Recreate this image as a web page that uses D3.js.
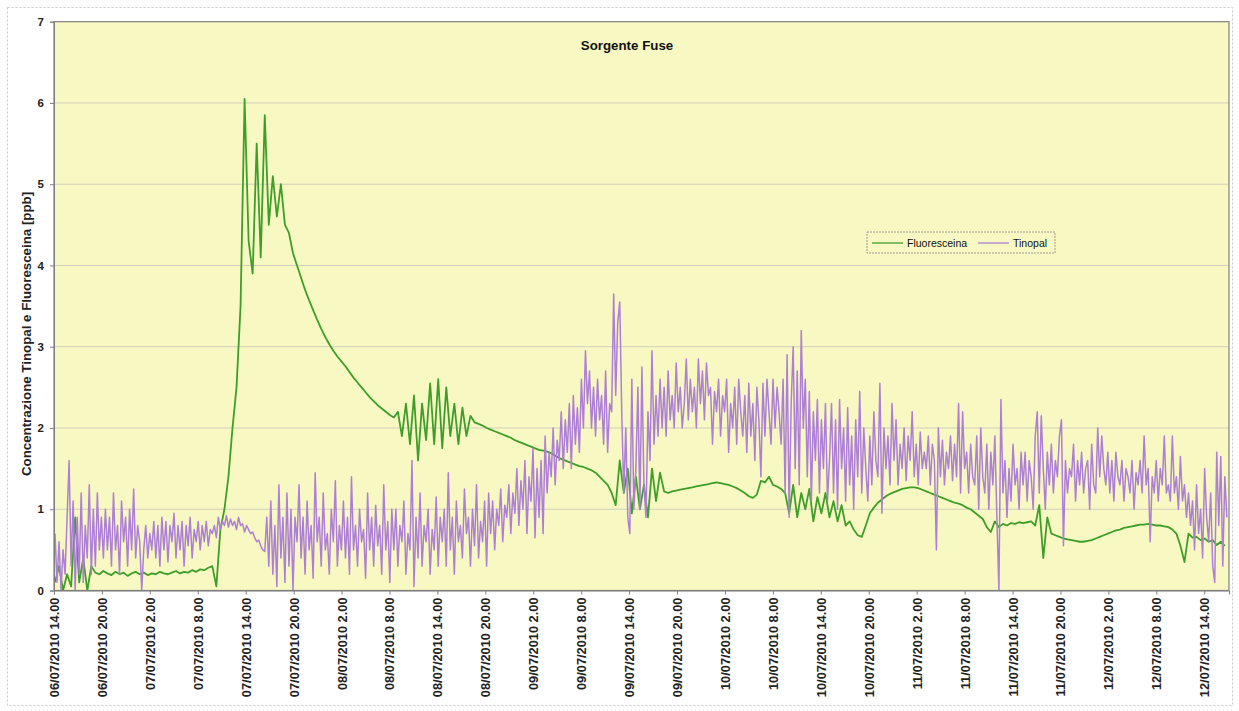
<!DOCTYPE html>
<html>
<head>
<meta charset="utf-8">
<script src="https://cdn.jsdelivr.net/npm/d3@7"></script>
<style>
  html, body { margin: 0; padding: 0; background: #ffffff; }
  svg { display: block; font-family: "Liberation Sans", Arial, sans-serif; }
</style>
</head>
<body>
<svg id="chart" width="1239" height="711"></svg>
<script>
// ---------------- DATA ----------------
const chartTitle = "Sorgente Fuse";
const yTitle = "Concentrazione Tinopal e Fluoresceina [ppb]";
const seriesNames = ["Fluoresceina", "Tinopal"];
const yTicks = [0, 1, 2, 3, 4, 5, 6, 7];
const xTickLabels = [
  "06/07/2010 14.00", "06/07/2010 20.00",
  "07/07/2010 2.00", "07/07/2010 8.00", "07/07/2010 14.00", "07/07/2010 20.00",
  "08/07/2010 2.00", "08/07/2010 8.00", "08/07/2010 14.00", "08/07/2010 20.00",
  "09/07/2010 2.00", "09/07/2010 8.00", "09/07/2010 14.00", "09/07/2010 20.00",
  "10/07/2010 2.00", "10/07/2010 8.00", "10/07/2010 14.00", "10/07/2010 20.00",
  "11/07/2010 2.00", "11/07/2010 8.00", "11/07/2010 14.00", "11/07/2010 20.00",
  "12/07/2010 2.00", "12/07/2010 8.00", "12/07/2010 14.00"
];
// sampling of the logger (minutes after 06/07/2010 14.00)
const fluoStartMin = 7.5, fluoStepMin = 30.3;
const tinoStartMin = 7.5, tinoStepMin = 15.15;

// Fluoresceina [ppb]
const fluoresceina = [
  0.1,0.3,0.0,0.2,0.05,0.9,0.1,0.4,0.0,0.3,
  0.22,0.2,0.24,0.21,0.19,0.23,0.2,0.22,0.18,0.21,0.23,0.2,0.22,0.19,0.21,0.2,0.23,0.21,0.2,0.22,0.24,0.21,0.23,0.22,0.25,0.23,0.26,0.25,0.28,0.3,
  0.05,0.75,1.0,1.4,2.0,2.5,3.5,6.05,4.3,3.9,5.5,4.1,5.85,4.5,5.1,4.6,5.0,4.5,4.4,4.15,4.0,
  3.85,3.7,3.57,3.45,3.33,3.22,3.12,3.03,2.95,2.88,2.82,2.76,2.69,2.62,2.56,2.5,2.44,2.38,2.33,2.28,2.24,2.2,2.16,2.13,
  2.2,1.9,2.3,1.8,2.4,1.6,2.3,1.85,2.55,1.8,2.6,1.75,2.5,1.9,2.3,1.8,2.25,1.9,2.15,2.07,
  2.05,2.03,2.0,1.98,1.96,1.94,1.92,1.9,1.88,1.85,1.83,1.81,1.79,1.77,1.75,1.73,
  1.72,1.71,1.69,1.66,1.63,1.61,1.59,1.57,1.55,1.53,1.52,1.5,1.48,1.45,1.4,1.35,1.3,1.2,1.05,
  1.6,1.2,1.5,0.95,1.4,1.0,1.3,0.9,1.5,1.1,1.45,
  1.22,1.2,1.22,1.23,1.24,1.25,1.26,1.27,1.28,1.29,1.3,1.31,1.32,1.33,1.32,1.31,1.3,1.28,1.26,1.23,1.2,1.16,1.14,1.18,1.35,1.33,1.4,1.3,1.28,1.25,
  1.2,0.95,1.3,0.9,1.2,1.0,1.25,0.85,1.15,0.95,1.2,0.9,1.1,0.85,1.05,0.8,0.85,0.75,0.68,
  0.66,0.8,0.95,1.02,1.08,1.12,1.16,1.19,1.21,1.23,
  1.25,1.26,1.27,1.27,1.26,1.24,1.22,1.2,1.18,1.16,
  1.14,1.12,1.1,1.08,1.07,1.05,1.02,1.0,0.96,0.92,
  0.88,0.78,0.72,0.85,0.78,0.82,0.8,0.83,0.82,0.84,
  0.83,0.84,0.85,0.8,1.05,0.4,0.9,0.7,0.68,0.66,
  0.64,0.63,0.62,0.61,0.6,0.6,0.61,0.62,0.64,0.66,
  0.68,0.7,0.72,0.74,0.75,0.77,0.78,0.79,0.8,0.81,
  0.81,0.82,0.81,0.8,0.8,0.79,0.78,0.75,0.7,0.55,
  0.35,0.7,0.65,0.66,0.62,0.64,0.6,0.62,0.56,0.6,
  0.55
];

// Tinopal [ppb]
const tinopal = [
  0.7,0.1,0.6,0.0,0.5,0.2,0.9,1.6,0.3,1.1,0.0,0.9,0.2,1.2,0.1,0.8,0.4,1.3,0.2,1.0,0.3,1.2,0.5,0.9,
  0.4,1.0,0.5,0.9,0.3,1.2,0.5,0.8,0.2,1.1,0.6,0.9,0.3,1.0,0.5,1.25,0.4,0.8,0.6,0.0,0.5,0.8,0.4,0.7,
  0.5,0.85,0.4,0.8,0.3,0.9,0.5,0.85,0.35,0.8,0.6,0.95,0.4,0.8,0.5,0.85,0.3,0.8,0.55,0.9,0.4,0.75,0.6,0.85,
  0.5,0.8,0.6,0.85,0.55,0.75,0.7,0.8,0.65,0.9,0.75,0.85,0.8,0.92,0.78,0.88,0.8,0.85,0.75,0.9,0.8,0.82,0.72,0.8,
  0.75,0.7,0.72,0.65,0.6,0.62,0.55,0.5,0.48,0.9,0.3,1.1,0.2,0.8,0.05,1.3,0.4,0.9,0.1,1.2,0.3,1.0,0.0,0.9,
  0.6,1.3,0.4,0.9,0.2,1.1,0.5,0.8,0.15,1.45,0.6,0.9,0.3,1.2,0.5,0.7,0.2,1.0,0.6,1.35,0.3,0.8,0.5,1.1,
  0.4,0.9,0.2,1.4,0.5,0.8,0.3,1.0,0.6,0.75,0.15,1.2,0.5,0.9,0.3,1.05,0.55,0.8,0.2,1.3,0.5,0.85,0.1,1.0,
  0.5,1.0,0.3,0.8,0.6,1.1,0.2,0.7,0.5,1.6,0.05,0.9,0.4,1.2,0.3,0.8,0.6,1.0,0.2,0.75,0.5,1.15,0.3,0.9,
  0.6,1.0,0.3,1.45,0.5,0.9,0.2,1.1,0.6,0.8,0.4,1.25,0.7,0.9,0.3,1.0,0.55,1.3,0.4,0.85,0.6,1.1,0.3,1.2,
  0.7,1.1,0.5,1.0,0.8,1.25,0.6,1.05,0.9,1.3,0.7,1.2,0.95,1.5,0.8,1.35,1.0,1.6,0.7,1.4,1.1,1.75,0.65,1.5,
  0.9,1.6,0.7,1.9,1.2,1.7,1.4,2.0,1.3,1.85,1.6,2.2,1.5,2.1,1.7,2.3,1.5,2.4,1.8,2.25,1.7,2.6,2.0,2.95,
  2.3,2.7,2.0,2.5,1.9,2.6,2.1,2.4,1.8,2.7,1.7,2.3,2.2,3.65,2.4,3.3,3.55,2.2,1.2,2.0,0.9,0.7,2.6,1.0,
  1.5,2.5,1.0,2.75,1.3,0.9,2.2,1.6,2.95,1.8,2.4,1.9,2.6,2.0,2.5,1.9,2.7,2.1,2.4,2.0,2.8,2.2,2.5,2.0,
  2.3,2.85,2.1,2.6,2.2,2.5,2.0,2.85,2.3,2.7,2.1,2.8,2.4,2.5,1.8,2.45,2.2,2.6,1.9,2.4,2.2,2.6,1.7,2.3,
  2.0,2.5,1.8,2.6,2.2,1.9,2.4,1.7,2.55,1.9,2.3,1.6,2.5,2.1,1.4,2.55,1.9,2.6,2.2,1.8,2.6,2.0,2.5,2.2,
  1.8,2.6,1.2,2.9,0.9,2.3,3.0,1.5,2.7,1.3,3.2,2.0,2.6,1.4,2.45,1.1,2.2,1.6,2.35,1.2,2.1,1.5,2.3,1.1,
  1.6,2.3,1.2,2.1,1.0,2.35,1.5,2.0,1.1,2.25,1.3,1.9,1.0,2.1,1.4,2.45,1.2,2.0,1.5,1.1,1.9,1.3,2.2,1.6,
  1.4,2.55,0.95,2.0,1.5,1.9,1.3,2.3,1.6,2.1,1.3,1.8,1.5,2.0,1.35,1.9,1.6,2.2,1.4,1.8,1.3,1.95,1.5,1.7,
  1.5,1.9,1.3,1.8,1.6,0.5,2.0,1.4,1.85,1.3,1.7,1.5,1.9,1.35,1.8,1.4,2.3,1.2,2.2,1.5,1.7,1.2,1.8,1.4,
  1.3,1.9,1.0,2.0,1.4,1.2,1.8,1.0,1.7,1.3,1.9,0.9,0.0,2.35,1.2,1.6,0.9,1.5,1.1,1.8,1.3,1.5,1.0,1.7,
  1.3,1.7,1.1,1.6,1.4,1.0,1.9,2.2,1.2,2.15,1.5,1.0,1.7,1.3,1.8,1.2,1.6,1.4,1.9,2.1,0.55,1.6,1.2,1.5,
  1.4,1.8,1.1,1.6,1.3,1.7,1.2,1.5,1.6,1.0,1.8,1.3,1.2,2.0,1.4,1.9,1.5,1.3,1.7,1.2,1.6,1.1,1.7,1.4,
  1.3,1.6,1.1,1.5,1.4,1.2,1.6,1.0,1.45,1.3,1.6,1.2,1.9,1.3,1.5,0.6,1.4,1.2,1.6,1.1,1.5,1.3,1.9,1.2,
  1.3,1.1,1.9,1.2,1.4,1.0,1.65,1.1,1.3,0.9,1.2,0.8,1.1,0.5,1.3,0.7,1.0,0.4,1.5,0.9,0.6,1.2,0.3,0.1,
  1.7,0.8,1.65,0.3,1.4,0.9
];

// ---------------- CHART ----------------
const svg = d3.select("#chart");
const plot = { left: 54, right: 1229, top: 21.7, bottom: 590.5 };
const colors = { fluo: "#3f9e2a", tino: "#ad7fd5", plotBg: "#f8f9c2", grid: "#cfcfbd", border: "#7f7f7f" };

const t0 = new Date(2010, 6, 6, 14, 0, 0);
const minute = 60000;
const tEnd = new Date(t0.getTime() + 147.1 * 60 * minute);

const x = d3.scaleTime().domain([t0, tEnd]).range([plot.left, plot.right]);
const y = d3.scaleLinear().domain([0, 7]).range([plot.bottom, plot.top]);

const fluoData = fluoresceina.map((v, i) => ({ t: new Date(t0.getTime() + (fluoStartMin + i * fluoStepMin) * minute), v }));
const tinoData = tinopal.map((v, i) => ({ t: new Date(t0.getTime() + (tinoStartMin + i * tinoStepMin) * minute), v }));

// outer frame
svg.append("rect").attr("x", 7.5).attr("y", 7.5).attr("width", 1225).attr("height", 698)
  .attr("fill", "#ffffff").attr("stroke", "#c8c8c8").attr("stroke-dasharray", "2,2");

// plot background
svg.append("rect").attr("x", plot.left).attr("y", plot.top)
  .attr("width", plot.right - plot.left).attr("height", plot.bottom - plot.top)
  .attr("fill", colors.plotBg);

// gridlines
svg.append("g").selectAll("line").data(yTicks.filter(d => d > 0 && d < 7)).join("line")
  .attr("x1", plot.left).attr("x2", plot.right)
  .attr("y1", d => y(d)).attr("y2", d => y(d))
  .attr("stroke", colors.grid).attr("stroke-width", 1);

// series
const line = d3.line().x(d => x(d.t)).y(d => y(d.v));
svg.append("clipPath").attr("id", "clip").append("rect")
  .attr("x", plot.left).attr("y", plot.top).attr("width", plot.right - plot.left).attr("height", plot.bottom - plot.top);

svg.append("path").datum(fluoData).attr("d", line)
  .attr("fill", "none").attr("stroke", colors.fluo).attr("stroke-width", 1.8)
  .attr("stroke-linejoin", "round").attr("clip-path", "url(#clip)");
svg.append("path").datum(tinoData).attr("d", line)
  .attr("fill", "none").attr("stroke", colors.tino).attr("stroke-width", 1.5)
  .attr("stroke-linejoin", "round").attr("clip-path", "url(#clip)");

// plot border
svg.append("rect").attr("x", plot.left).attr("y", plot.top)
  .attr("width", plot.right - plot.left).attr("height", plot.bottom - plot.top)
  .attr("fill", "none").attr("stroke", colors.border).attr("stroke-width", 1.2);

// y axis
const yAxis = d3.axisLeft(y).tickValues(yTicks).tickSize(4).tickFormat(d3.format("d"));
const gy = svg.append("g").attr("transform", `translate(${plot.left},0)`).call(yAxis);
gy.select(".domain").attr("stroke", colors.border);
gy.selectAll(".tick line").attr("stroke", colors.border);
gy.selectAll(".tick text").attr("font-size", 11.5).attr("font-weight", "bold").attr("fill", "#222")
  .attr("font-family", "Liberation Sans, Arial, sans-serif").attr("dx", "-3");

// x axis
const xTickDates = xTickLabels.map((_, i) => new Date(t0.getTime() + i * 6 * 60 * minute));
const xAxis = d3.axisBottom(x).tickValues(xTickDates).tickSize(4)
  .tickFormat((d, i) => xTickLabels[i]);
const gx = svg.append("g").attr("transform", `translate(0,${plot.bottom})`).call(xAxis);
gx.select(".domain").attr("stroke", colors.border);
gx.selectAll(".tick line").attr("stroke", colors.border);
gx.selectAll(".tick text")
  .attr("font-size", 12.8).attr("font-weight", "bold").attr("fill", "#222")
  .attr("font-family", "Liberation Sans, Arial, sans-serif")
  .attr("text-anchor", "end")
  .attr("transform", "rotate(-90)")
  .attr("x", -7).attr("y", 0).attr("dy", "0.35em");

// y title
svg.append("text")
  .attr("transform", `translate(31,334) rotate(-90)`)
  .attr("text-anchor", "middle").attr("font-size", 13.3).attr("font-weight", "bold").attr("fill", "#222")
  .text(yTitle);

// chart title
svg.append("text").attr("x", 627).attr("y", 50).attr("text-anchor", "middle")
  .attr("font-size", 13.3).attr("font-weight", "bold").attr("fill", "#111").text(chartTitle);

// legend
const lg = svg.append("g").attr("transform", "translate(867,232)");
lg.append("rect").attr("width", 188).attr("height", 21)
  .attr("fill", colors.plotBg).attr("stroke", "#9a9a9a").attr("stroke-dasharray", "2,1");
const legendItems = [
  { name: seriesNames[0], color: colors.fluo, x0: 5 },
  { name: seriesNames[1], color: colors.tino, x0: 111 }
];
legendItems.forEach(it => {
  lg.append("line").attr("x1", it.x0).attr("x2", it.x0 + 31).attr("y1", 11).attr("y2", 11)
    .attr("stroke", it.color).attr("stroke-width", 1.3);
  lg.append("text").attr("x", it.x0 + 35).attr("y", 14.8).attr("font-size", 10.5)
    .attr("fill", "#111").text(it.name);
});
</script>
</body>
</html>
